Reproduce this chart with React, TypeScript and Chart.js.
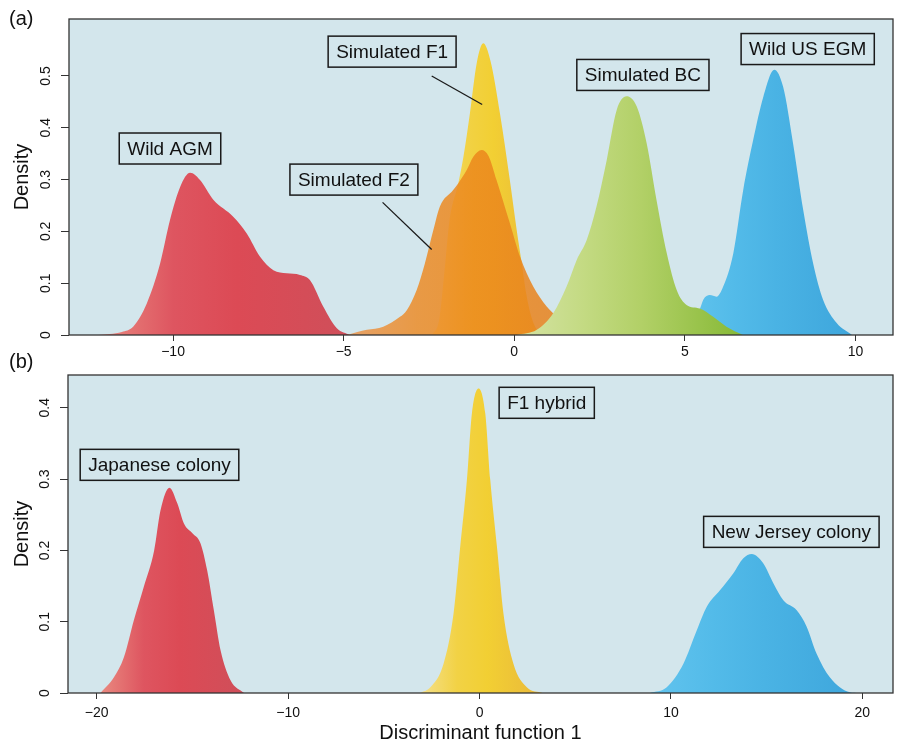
import React, { useEffect, useRef } from "react";
import { Chart, registerables } from "chart.js";
Chart.register(...registerables);

// ---------- Panel (a) data ----------
const agmX = [-12.2, -11.85, -11.5, -11.17, -10.77, -10.38, -10.09, -9.79, -9.5, -9.21, -8.82, -8.23, -7.84, -7.45, -7.06, -6.67, -6.28, -5.99, -5.6, -5.2, -4.81];
const agmY = [0, 0.002, 0.006, 0.016, 0.061, 0.138, 0.222, 0.286, 0.313, 0.299, 0.261, 0.228, 0.196, 0.151, 0.125, 0.119, 0.116, 0.106, 0.055, 0.013, 0];

const f2X = [-4.9, -4.6, -4.32, -3.84, -3.35, -3.15, -2.86, -2.62, -2.37, -2.18, -1.79, -1.64, -1.39, -1.2, -0.955, -0.75, -0.52, -0.13, 0.17, 0.56, 0.95, 1.24, 1.53, 1.9];
const f2Y = [0, 0.006, 0.01, 0.016, 0.035, 0.048, 0.087, 0.138, 0.203, 0.248, 0.28, 0.293, 0.319, 0.344, 0.357, 0.345, 0.299, 0.216, 0.151, 0.093, 0.055, 0.035, 0.012, 0];

const f1X = [-2.4, -2.2, -2.05, -1.9, -1.64, -1.49, -1.3, -1.1, -0.91, -0.7, -0.42, -0.13, 0.07, 0.22, 0.35, 0.5, 0.66, 0.85];
const f1Y = [0, 0.03, 0.12, 0.22, 0.293, 0.344, 0.428, 0.525, 0.563, 0.53, 0.428, 0.299, 0.203, 0.138, 0.08, 0.035, 0.01, 0];

const bcX = [0.07, 0.66, 1.14, 1.53, 1.83, 2.12, 2.41, 2.71, 3.0, 3.29, 3.59, 3.88, 4.17, 4.47, 4.76, 5.05, 5.44, 5.83, 6.22, 6.7];
const bcY = [0, 0.01, 0.042, 0.093, 0.145, 0.183, 0.248, 0.338, 0.434, 0.461, 0.441, 0.37, 0.26, 0.158, 0.087, 0.058, 0.051, 0.035, 0.016, 0];

const egmX = [4.9, 5.2, 5.44, 5.54, 5.73, 5.93, 6.12, 6.42, 6.71, 7.0, 7.3, 7.62, 7.88, 8.17, 8.47, 8.76, 9.05, 9.45, 9.9];
const egmY = [0, 0.02, 0.05, 0.068, 0.077, 0.074, 0.093, 0.158, 0.28, 0.376, 0.46, 0.512, 0.479, 0.37, 0.241, 0.138, 0.068, 0.023, 0];

// ---------- Panel (b) data ----------
const japX = [-19.8, -19.1, -18.58, -18.06, -17.54, -17.0, -16.67, -16.2, -15.79, -15.45, -15.0, -14.58, -14.23, -13.88, -13.53, -13.01, -12.3];
const japY = [0, 0.022, 0.05, 0.102, 0.149, 0.2, 0.256, 0.288, 0.266, 0.238, 0.224, 0.21, 0.172, 0.116, 0.06, 0.018, 0];

const hybX = [-3.1, -2.57, -1.88, -1.36, -1.01, -0.66, -0.4, -0.05, 0.3, 0.56, 0.91, 1.25, 1.77, 2.47, 3.3];
const hybY = [0, 0.008, 0.041, 0.111, 0.205, 0.299, 0.392, 0.427, 0.392, 0.299, 0.205, 0.111, 0.041, 0.008, 0];

const njX = [8.9, 9.78, 10.65, 11.35, 11.87, 12.56, 13.26, 13.78, 14.22, 14.82, 15.35, 15.87, 16.57, 17.09, 17.61, 18.3, 19.35, 19.8];
const njY = [0, 0.008, 0.041, 0.088, 0.121, 0.144, 0.168, 0.189, 0.195, 0.182, 0.154, 0.13, 0.116, 0.093, 0.055, 0.022, 0.001, 0];

// ---------- ticks / ranges ----------
const xTicksA = [-10, -5, 0, 5, 10];
const yTicksA = [0, 0.1, 0.2, 0.3, 0.4, 0.5];
const xRangeA = [-13.05, 11.1];
const yRangeA = [0, 0.61];
const xTicksB = [-20, -10, 0, 10, 20];
const yTicksB = [0, 0.1, 0.2, 0.3, 0.4];
const xRangeB = [-21.5, 21.6];
const yRangeB = [0, 0.446];

// ---------- labels ----------
const labelsA = [
  { text: "Wild AGM", x: -10.09, y: 0.36 },
  { text: "Simulated F1", x: -3.58, y: 0.547 },
  { text: "Simulated F2", x: -4.7, y: 0.3 },
  { text: "Simulated BC", x: 3.77, y: 0.502 },
  { text: "Wild US EGM", x: 8.6, y: 0.552 },
];
const leadersA = [
  { x1: -2.42, y1: 0.5, x2: -0.94, y2: 0.445 },
  { x1: -3.86, y1: 0.256, x2: -2.42, y2: 0.165 },
];
const labelsB = [
  { text: "Japanese colony", x: -16.72, y: 0.32 },
  { text: "F1 hybrid", x: 3.51, y: 0.407 },
  { text: "New Jersey colony", x: 16.29, y: 0.226 },
];

const RED = ["#e98a80", "#de5560", "#dc4a55", "#cf4f5a"];
const YEL = ["#f4e08c", "#f2d245", "#f2cf33", "#e9b83c"];
const ORA = ["rgba(234,150,80,0.85)", "rgba(236,140,40,0.85)", "rgba(236,136,28,0.85)", "rgba(230,128,30,0.85)"];
const GRN = ["#d5e3a4", "#c3da82", "#b2d067", "#86b936"];
const BLU = ["#62c4ee", "#53bbe9", "#4ab3e4", "#3ea6dc"];

const BG = "#d3e6ec";
const FONT = "'Liberation Sans', Arial, Helvetica, sans-serif";

const pts = (xs: number[], ys: number[]) => xs.map((x, i) => ({ x, y: ys[i] }));
const fmt = (v: number) => (v < 0 ? "\u2212" + Math.abs(v) : String(v));

function gradFill(xs: number[], stops: string[]) {
  return (ctx: any) => {
    const chart = ctx.chart;
    const sx = chart.scales && chart.scales.x;
    if (!chart.chartArea || !sx) return stops[2];
    const x0 = sx.getPixelForValue(xs[0]);
    const x1 = sx.getPixelForValue(xs[xs.length - 1]);
    const g = chart.ctx.createLinearGradient(x0, 0, x1, 0);
    g.addColorStop(0, stops[0]);
    g.addColorStop(0.3, stops[1]);
    g.addColorStop(0.55, stops[2]);
    g.addColorStop(1, stops[3]);
    return g;
  };
}

function ds(xs: number[], ys: number[], stops: string[], order: number) {
  return {
    data: pts(xs, ys),
    fill: "origin",
    backgroundColor: gradFill(xs, stops),
    borderWidth: 0,
    borderColor: "rgba(0,0,0,0)",
    pointRadius: 0,
    cubicInterpolationMode: "monotone",
    order,
  };
}

const panelPlugin = (letter: string, labels: any[], leaders: any[], letterY: number) => ({
  id: "panel" + letter,
  beforeDatasetsDraw(chart: any) {
    const { ctx, chartArea: a } = chart;
    ctx.save();
    ctx.fillStyle = BG;
    ctx.fillRect(a.left, a.top, a.right - a.left, a.bottom - a.top);
    ctx.restore();
  },
  afterDatasetsDraw(chart: any) {
    const { ctx, chartArea: a, scales } = chart;
    const sx = scales.x, sy = scales.y;
    ctx.save();
    ctx.strokeStyle = "#1a1a1a";
    ctx.lineWidth = 1.3;
    leaders.forEach((l) => {
      ctx.beginPath();
      ctx.moveTo(sx.getPixelForValue(l.x1), sy.getPixelForValue(l.y1));
      ctx.lineTo(sx.getPixelForValue(l.x2), sy.getPixelForValue(l.y2));
      ctx.stroke();
    });
    ctx.font = "19px " + FONT;
    ctx.textAlign = "center";
    ctx.textBaseline = "middle";
    labels.forEach((lb) => {
      const cx = sx.getPixelForValue(lb.x);
      const cy = sy.getPixelForValue(lb.y);
      const w = ctx.measureText(lb.text).width + 16;
      const h = 31;
      ctx.fillStyle = BG;
      ctx.fillRect(cx - w / 2, cy - h / 2, w, h);
      ctx.lineWidth = 1.5;
      ctx.strokeStyle = "#1a1a1a";
      ctx.strokeRect(cx - w / 2, cy - h / 2, w, h);
      ctx.fillStyle = "#111";
      ctx.fillText(lb.text, cx, cy + 1);
    });
    ctx.strokeStyle = "#333";
    ctx.lineWidth = 1.3;
    ctx.strokeRect(a.left, a.top, a.right - a.left, a.bottom - a.top);
    ctx.font = "20px " + FONT;
    ctx.textAlign = "left";
    ctx.textBaseline = "middle";
    ctx.fillStyle = "#111";
    ctx.fillText("(" + letter + ")", 9, letterY);
    ctx.restore();
  },
});

function makeOptions(opts: {
  xr: number[]; yr: number[]; xt: number[]; yt: number[];
  yWidth: number; xHeight: number; padTop: number; xTitle?: string; xTickPad: number;
}) {
  return {
    responsive: false,
    animation: false,
    events: [],
    layout: { padding: { left: 0, right: 6, top: opts.padTop, bottom: 0 } },
    plugins: { legend: { display: false }, tooltip: { enabled: false } },
    scales: {
      x: {
        type: "linear",
        min: opts.xr[0],
        max: opts.xr[1],
        afterBuildTicks: (s: any) => { s.ticks = opts.xt.map((v) => ({ value: v })); },
        afterFit: (s: any) => { s.height = opts.xHeight; },
        grid: { drawOnChartArea: false, drawTicks: true, tickLength: 6, color: "#333", lineWidth: 1 },
        border: { display: false },
        ticks: { font: { size: 14, family: FONT }, color: "#111", padding: opts.xTickPad, callback: (v: any) => fmt(v), maxRotation: 0, minRotation: 0 },
        title: opts.xTitle
          ? { display: true, text: opts.xTitle, font: { size: 20, family: FONT }, color: "#111", padding: { top: 0, bottom: 1 } }
          : { display: false },
      },
      y: {
        type: "linear",
        min: opts.yr[0],
        max: opts.yr[1],
        afterBuildTicks: (s: any) => { s.ticks = opts.yt.map((v) => ({ value: v })); },
        afterFit: (s: any) => { s.width = opts.yWidth; },
        grid: { drawOnChartArea: false, drawTicks: true, tickLength: 8, color: "#333", lineWidth: 1 },
        border: { display: false },
        ticks: { font: { size: 14, family: FONT }, color: "#111", padding: 5, crossAlign: "center", minRotation: 90, maxRotation: 90, callback: (v: any) => String(v) },
        title: { display: true, text: "Density", font: { size: 20, family: FONT }, color: "#111", padding: { top: 10, bottom: 0 } },
      },
    },
  };
}

export default function App() {
  const refA = useRef<HTMLCanvasElement>(null);
  const refB = useRef<HTMLCanvasElement>(null);
  useEffect(() => {
    const chA = new Chart(refA.current as HTMLCanvasElement, {
      type: "line",
      data: {
        datasets: [
          ds(agmX, agmY, RED, 4),
          ds(f1X, f1Y, YEL, 3),
          ds(f2X, f2Y, ORA, 1),
          ds(egmX, egmY, BLU, 2),
          ds(bcX, bcY, GRN, 0),
        ] as any,
      },
      options: makeOptions({ xr: xRangeA, yr: yRangeA, xt: xTicksA, yt: yTicksA, yWidth: 69, xHeight: 35, padTop: 19, xTickPad: 3 }) as any,
      plugins: [panelPlugin("a", labelsA, leadersA, 19)],
    });
    const chB = new Chart(refB.current as HTMLCanvasElement, {
      type: "line",
      data: {
        datasets: [
          ds(japX, japY, RED, 0),
          ds(hybX, hybY, YEL, 1),
          ds(njX, njY, BLU, 2),
        ] as any,
      },
      options: makeOptions({ xr: xRangeB, yr: yRangeB, xt: xTicksB, yt: yTicksB, yWidth: 68, xHeight: 53, padTop: 25, xTitle: "Discriminant function 1", xTickPad: 6 }) as any,
      plugins: [panelPlugin("b", labelsB, [], 12)],
    });
    return () => { chA.destroy(); chB.destroy(); };
  }, []);
  return (
    <div style={{ position: "absolute", left: 0, top: 0, width: 899, height: 746, background: "#fff" }}>
      <canvas ref={refA} width={899} height={370} style={{ position: "absolute", left: 0, top: 0 }} />
      <canvas ref={refB} width={899} height={396} style={{ position: "absolute", left: 0, top: 350 }} />
    </div>
  );
}
